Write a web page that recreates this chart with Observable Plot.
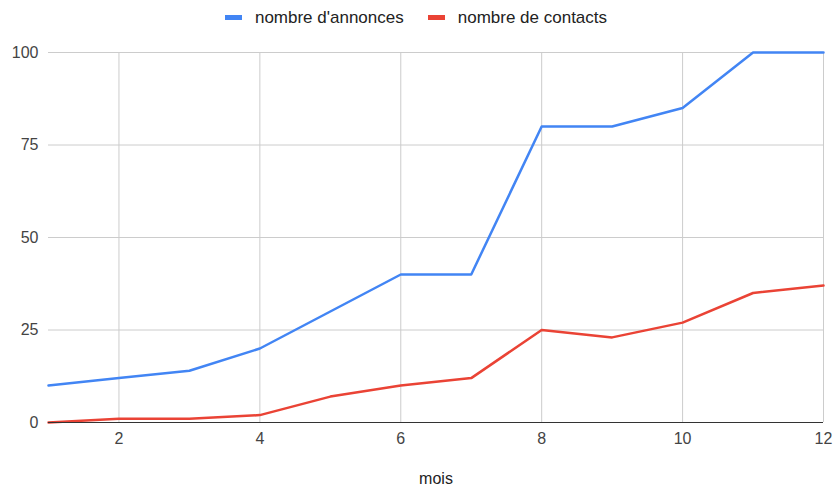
<!DOCTYPE html>
<html><head><meta charset="utf-8">
<script src="https://cdn.jsdelivr.net/npm/d3@7"></script>
<script src="https://cdn.jsdelivr.net/npm/@observablehq/plot@0.6"></script>
<style>
body{margin:0;background:#fff;font-family:"Liberation Sans",Arial,sans-serif;}
#legend{height:35px;display:flex;justify-content:center;align-items:center;font-size:17px;color:#222;padding-right:4px;}
.item{display:flex;align-items:center;margin:0 12px;}
.sw{width:17px;height:5px;margin-right:13px;display:inline-block;}
</style></head>
<body>
<div id="legend"></div>
<div id="chart"></div>
<script>
const months = [1,2,3,4,5,6,7,8,9,10,11,12];
const annonces = [10,12,14,20,30,40,40,80,80,85,100,100];
const contacts = [0,1,1,2,7,10,12,25,23,27,35,37];
const seriesNames = ["nombre d'annonces","nombre de contacts"];
const colors = ["#4285F4","#EA4335"];
const xTicks = [2,4,6,8,10,12];
const yTicks = [0,25,50,75,100];

const data = [];
months.forEach((m,i)=>{
  data.push({mois:m, v:annonces[i], s:seriesNames[0]});
  data.push({mois:m, v:contacts[i], s:seriesNames[1]});
});

const leg = document.getElementById("legend");
seriesNames.forEach((n,i)=>{
  const d = document.createElement("div"); d.className="item";
  d.innerHTML = `<span class="sw" style="background:${colors[i]}"></span><span>${n}</span>`;
  leg.appendChild(d);
});

const chart = Plot.plot({
  width: 836, height: 455,
  marginTop: 17, marginBottom: 68, marginLeft: 48, marginRight: 13,
  style: {fontFamily: "'Liberation Sans', Arial, sans-serif", fontSize: "16px", color: "#444"},
  x: {domain: [1,12]},
  y: {domain: [0,100]},
  color: {domain: seriesNames, range: colors},
  marks: [
    Plot.gridY(yTicks, {stroke: "#cccccc", strokeOpacity: 1}),
    Plot.gridX(xTicks, {stroke: "#cccccc", strokeOpacity: 1}),
    Plot.axisY(yTicks, {tickSize: 0, tickPadding: 10, label: null, fontSize: 16}),
    Plot.axisX(xTicks, {tickSize: 0, tickPadding: 10, label: null, fontSize: 16}),
    Plot.text(["mois"], {frameAnchor: "bottom", dy: 61, fontSize: 16, fill: "#222"}),
    Plot.line(data, {x: "mois", y: "v", z: "s", stroke: "s", strokeWidth: 2.5}),
    Plot.ruleY([0], {stroke: "#333", strokeWidth: 1.2})
  ]
});
document.getElementById("chart").appendChild(chart);
</script>
</body></html>
